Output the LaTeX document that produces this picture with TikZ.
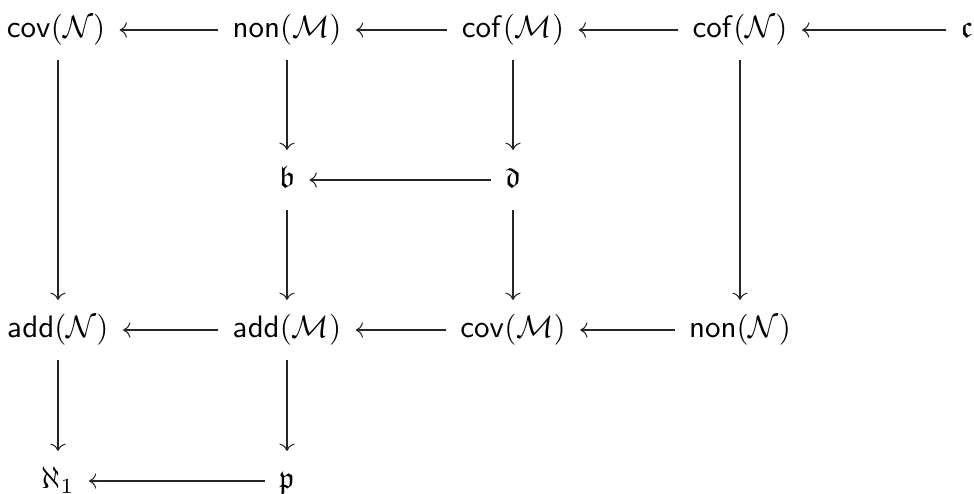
\documentclass[tikz,border=0pt]{standalone}
\usepackage{amsmath,amssymb}
\usetikzlibrary{arrows.meta}
\tikzset{
  cell/.style={inner xsep=4.5pt, inner ysep=4.5pt, text height=7.5pt, text depth=2.5pt},
  arr/.style={-{Computer Modern Rightarrow}, line width=0.34pt, black!85}
}
\begin{document}
\begin{tikzpicture}[x=0.3226pt, y=-0.3226pt]
\useasboundingbox (0,0) rectangle (974,493);
% row 1
\node[cell] (covN) at (56,30) {$\mathsf{cov}(\mathcal{N})$};
\node[cell] (nonM) at (287,30) {$\mathsf{non}(\mathcal{M})$};
\node[cell] (cofM) at (513,30) {$\mathsf{cof}(\mathcal{M})$};
\node[cell] (cofN) at (740,30) {$\mathsf{cof}(\mathcal{N})$};
\node[cell] (c) at (967,30) {$\mathfrak{c}$};
% row 2
\node[cell] (b) at (287,180) {$\mathfrak{b}$};
\node[cell] (d) at (513,180) {$\mathfrak{d}$};
% row 3
\node[cell] (addN) at (58,330) {$\mathsf{add}(\mathcal{N})$};
\node[cell] (addM) at (287,330) {$\mathsf{add}(\mathcal{M})$};
\node[cell] (covM) at (513,330) {$\mathsf{cov}(\mathcal{M})$};
\node[cell] (nonN) at (740,330) {$\mathsf{non}(\mathcal{N})$};
% row 4
\node[cell] (aleph) at (58,481) {$\aleph_1$};
\node[cell] (p) at (287,481) {$\mathfrak{p}$};
% arrows
\draw[arr] (c) -- (cofN);
\draw[arr] (cofN) -- (cofM);
\draw[arr] (cofM) -- (nonM);
\draw[arr] (nonM) -- (covN);
\draw[arr] (covN.south -| addN) -- (addN);
\draw[arr] (nonM) -- (b);
\draw[arr] (cofM) -- (d);
\draw[arr] (cofN) -- (nonN);
\draw[arr] (d) -- (b);
\draw[arr] (b) -- (addM);
\draw[arr] (d) -- (covM);
\draw[arr] (nonN) -- (covM);
\draw[arr] (covM) -- (addM);
\draw[arr] (addM) -- (addN);
\draw[arr] (addN) -- (aleph);
\draw[arr] (addM) -- (p);
\draw[arr] (p) -- (aleph);
\end{tikzpicture}
\end{document}
